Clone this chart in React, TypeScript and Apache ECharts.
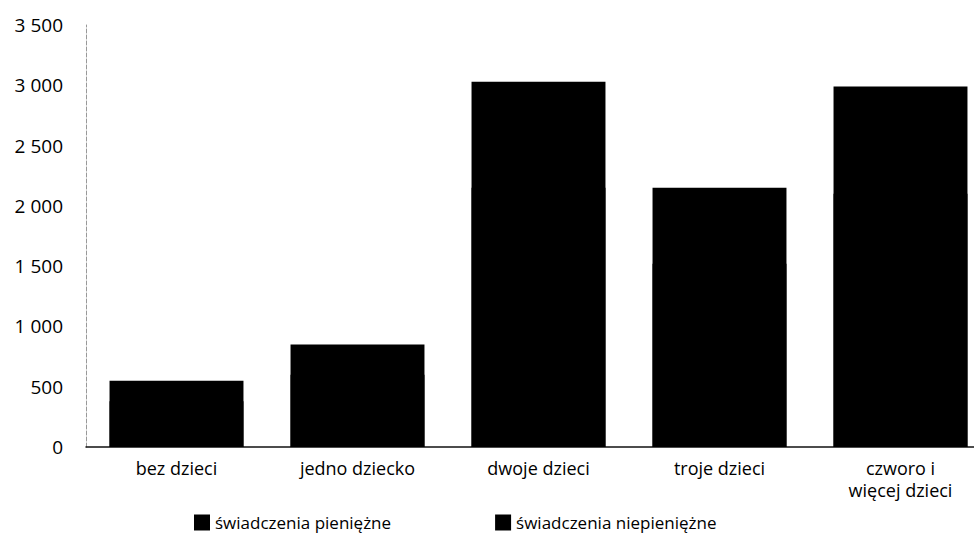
import React, { useEffect, useRef } from "react";
import * as echarts from "echarts";

const categories = ["bez dzieci", "jedno dziecko", "dwoje dzieci", "troje dzieci", "czworo i\nwięcej dzieci"];
const seriesNames = ["świadczenia pieniężne", "świadczenia niepieniężne"];
const cashValues = [380, 600, 2150, 1520, 2100];
const nonCashValues = [170, 250, 880, 630, 890];
const yTicks = [0, 500, 1000, 1500, 2000, 2500, 3000, 3500];

const fmt = (v: number) => {
  const s = String(Math.round(v));
  return s.length > 3 ? s.slice(0, s.length - 3) + " " + s.slice(s.length - 3) : s;
};

export default function App() {
  const ref = useRef<HTMLDivElement>(null);
  useEffect(() => {
    if (!ref.current) return;
    const chart = echarts.init(ref.current, null, { renderer: "svg" });
    const font = "'Open Sans', 'DejaVu Sans', sans-serif";
    // Non-cash segment sits on top of cash segment; drawn as the cumulative top so the
    // stack renders as one solid black column without anti-aliasing seams.
    const stackedTop = cashValues.map((c, i) => c + nonCashValues[i]);
    chart.setOption({
      animation: false,
      backgroundColor: "#ffffff",
      textStyle: { fontFamily: font },
      grid: { left: 86, right: 0, top: 25, bottom: 103, containLabel: false },
      legend: {
        data: seriesNames,
        left: 189,
        top: 509,
        itemWidth: 16,
        itemHeight: 16,
        itemGap: 104,
        icon: "rect",
        textStyle: { fontSize: 17, color: "#000", fontFamily: font },
      },
      xAxis: {
        type: "category",
        data: categories,
        axisLine: { show: true, lineStyle: { color: "#111", width: 1.5 } },
        axisTick: { show: false },
        axisLabel: {
          color: "#000",
          fontSize: 18,
          margin: 10,
          lineHeight: 22,
          fontFamily: font,
          interval: 0,
        },
      },
      yAxis: {
        type: "value",
        min: yTicks[0],
        max: yTicks[yTicks.length - 1],
        interval: 500,
        axisLine: { show: true, lineStyle: { color: "#999", type: "dashed", width: 1 } },
        axisTick: { show: false },
        splitLine: { show: false },
        axisLabel: {
          color: "#000",
          fontSize: 19,
          margin: 23,
          fontFamily: font,
          formatter: (v: number) => fmt(v),
        },
      },
      series: [
        {
          name: seriesNames[1],
          type: "bar",
          barWidth: "74%",
          barGap: "-100%",
          z: 1,
          data: stackedTop,
          itemStyle: { color: "#000" },
        },
        {
          name: seriesNames[0],
          type: "bar",
          barWidth: "74%",
          barGap: "-100%",
          z: 2,
          data: cashValues,
          itemStyle: { color: "#000" },
        },
      ],
    });
    return () => chart.dispose();
  }, []);
  return (
    <div style={{ position: "absolute", left: 0, top: 0, width: 974, height: 550, overflow: "hidden" }}>
      <div ref={ref} style={{ position: "absolute", left: 0, top: 0, width: 991, height: 550 }} />
    </div>
  );
}
